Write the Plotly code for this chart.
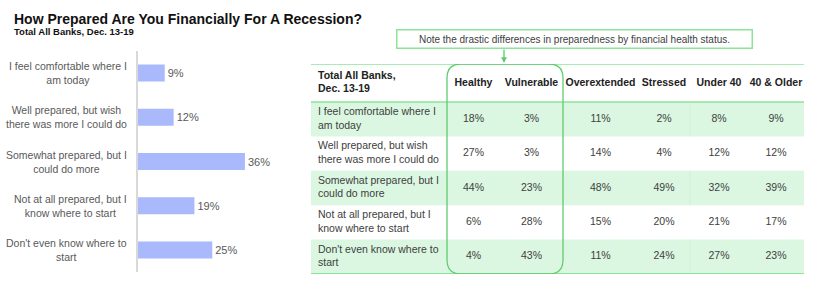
import plotly.graph_objects as go

W, H = 822, 303

# ---------------- data ----------------
answers = [
    "I feel comfortable where I<br>am today",
    "Well prepared, but wish<br>there was more I could do",
    "Somewhat prepared, but I<br>could do more",
    "Not at all prepared, but I<br>know where to start",
    "Don't even know where to<br>start",
]
total_values = [9, 12, 36, 19, 25]

title_text = "How Prepared Are You Financially For A Recession?"
subtitle_text = "Total All Banks, Dec. 13-19"
table_corner = "Total All Banks,<br>Dec. 13-19"
segments = ["Healthy", "Vulnerable", "Overextended", "Stressed", "Under 40", "40 & Older"]
healthy = [18, 27, 44, 6, 4]
vulnerable = [3, 3, 23, 28, 43]
overextended = [11, 14, 48, 15, 11]
stressed = [2, 4, 49, 20, 24]
under_40 = [8, 12, 32, 21, 27]
older_40 = [9, 12, 39, 17, 23]
note_text = "Note the drastic differences in preparedness by financial health status."

segment_values = [healthy, vulnerable, overextended, stressed, under_40, older_40]

# ---------------- style ----------------
FONT = "Liberation Sans, Arial, sans-serif"
BAR_COLOR = "#a9b9fb"
GRAY = "#595959"
DARK = "#404040"
GREEN_FILL = "#dbf7e1"
GREEN_LINE = "#8ee39a"
GREEN_BOX = "#5fcb6e"
col_widths = [136, 53, 63, 75, 52, 58, 56]   # pixel widths of table columns
row_px = 34.4
hdr_px = 38.0


def px_x(p):
    return p / W


def px_y(p):
    return 1 - p / H


fig = go.Figure()

# ---------------- left bar chart ----------------
fig.add_trace(go.Bar(
    x=total_values, y=answers, orientation="h",
    marker=dict(color=BAR_COLOR, line=dict(width=0)),
    width=0.385,
    text=[f"{v}%" for v in total_values], textposition="outside",
    textfont=dict(family=FONT, size=11, color=GRAY),
    cliponaxis=False, xaxis="x", yaxis="y", showlegend=False,
))

# ---------------- table on second axes ----------------
edges = [0]
for w in col_widths:
    edges.append(edges[-1] + w)
centers = [(edges[i] + edges[i + 1]) / 2 for i in range(len(col_widths))]
total_w = edges[-1]
hdr_units = hdr_px / row_px
n_rows = len(answers)

# row labels
fig.add_trace(go.Scatter(
    x=[7] * n_rows, y=[i + 0.5 for i in range(n_rows)],
    text=answers, mode="text", textposition="middle right",
    textfont=dict(family=FONT, size=10.5, color=DARK),
    xaxis="x2", yaxis="y2", showlegend=False, cliponaxis=False, hoverinfo="skip",
))
# corner header
fig.add_trace(go.Scatter(
    x=[7], y=[-hdr_units / 2], text=[f"<b>{table_corner}</b>"],
    mode="text", textposition="middle right",
    textfont=dict(family=FONT, size=10.5, color="#222222"),
    xaxis="x2", yaxis="y2", showlegend=False, cliponaxis=False, hoverinfo="skip",
))
# segment headers
fig.add_trace(go.Scatter(
    x=centers[1:], y=[-hdr_units / 2] * len(segments),
    text=[f"<b>{s}</b>" for s in segments], mode="text", textposition="middle center",
    textfont=dict(family=FONT, size=10.5, color="#222222"),
    xaxis="x2", yaxis="y2", showlegend=False, cliponaxis=False, hoverinfo="skip",
))
# values
for j, vals in enumerate(segment_values):
    fig.add_trace(go.Scatter(
        x=[centers[j + 1]] * n_rows, y=[i + 0.5 for i in range(n_rows)],
        text=[f"{v}%" for v in vals], mode="text", textposition="middle center",
        textfont=dict(family=FONT, size=10.5, color=DARK),
        xaxis="x2", yaxis="y2", showlegend=False, cliponaxis=False, hoverinfo="skip",
    ))

shapes = []
sep = edges[5]  # separator between financial-health and age groups
for i in range(n_rows):
    if i % 2 == 0:
        shapes.append(dict(type="rect", xref="x2", yref="y2", x0=0, x1=total_w,
                           y0=i, y1=i + 1, fillcolor=GREEN_FILL, line=dict(width=0),
                           layer="below"))
        shapes.append(dict(type="line", xref="x2", yref="y2", x0=sep, x1=sep,
                           y0=i, y1=i + 1, line=dict(color="#c9efd0", width=0.8),
                           layer="below"))
for yy, wd in [(-hdr_units, 1.3), (0, 1.3), (n_rows, 1.8)]:
    shapes.append(dict(type="line", xref="x2", yref="y2", x0=0, x1=total_w,
                       y0=yy, y1=yy, line=dict(color=GREEN_LINE, width=wd)))

# rounded highlight box around Healthy & Vulnerable
bx0, bx1 = edges[1], edges[3]
by0, by1 = -hdr_units, n_rows
rx, ry = 14, 14 / row_px
path = (f"M {bx0 + rx},{by0} L {bx1 - rx},{by0} Q {bx1},{by0} {bx1},{by0 + ry} "
        f"L {bx1},{by1 - ry} Q {bx1},{by1} {bx1 - rx},{by1} "
        f"L {bx0 + rx},{by1} Q {bx0},{by1} {bx0},{by1 - ry} "
        f"L {bx0},{by0 + ry} Q {bx0},{by0} {bx0 + rx},{by0} Z")
shapes.append(dict(type="path", xref="x2", yref="y2", path=path,
                   line=dict(color=GREEN_BOX, width=1.3), fillcolor="rgba(0,0,0,0)"))

annotations = [
    dict(text=f"<b>{title_text}</b>", x=px_x(12), y=px_y(19), xref="paper", yref="paper",
         xanchor="left", yanchor="middle", showarrow=False,
         font=dict(family=FONT, size=14, color="#111111")),
    dict(text=f"<b>{subtitle_text}</b>", x=px_x(12), y=px_y(32), xref="paper", yref="paper",
         xanchor="left", yanchor="middle", showarrow=False,
         font=dict(family=FONT, size=9.5, color="#111111")),
    dict(text=note_text, x=px_x(574), y=px_y(38.5), xref="paper", yref="paper",
         xanchor="center", yanchor="middle", showarrow=False,
         width=352, height=15, borderpad=1, bordercolor=GREEN_LINE, borderwidth=1.5,
         bgcolor="white", font=dict(family=FONT, size=10, color=DARK)),
    dict(text="", x=px_x(504), y=px_y(63), xref="paper", yref="paper",
         showarrow=True, ax=0, ay=-15, arrowhead=2, arrowsize=0.9, arrowwidth=1.3,
         arrowcolor=GREEN_BOX),
]
# centred category labels for the bar chart
for a in answers:
    annotations.append(dict(text=a, x=px_x(129), y=a, xref="paper", yref="y",
                            xanchor="right", yanchor="middle", align="center",
                            showarrow=False,
                            font=dict(family=FONT, size=10.5, color=GRAY)))

fig.update_layout(
    width=W, height=H, margin=dict(l=0, r=0, t=0, b=0),
    paper_bgcolor="white", plot_bgcolor="white",
    font=dict(family=FONT, color=GRAY),
    shapes=shapes, annotations=annotations, showlegend=False,
    xaxis=dict(domain=[px_x(138), px_x(138 + 40 * 2.97)], range=[0, 40],
               visible=False, fixedrange=True),
    yaxis=dict(domain=[px_y(272), px_y(51)], autorange="reversed",
               categoryorder="array", categoryarray=answers,
               showline=True, linecolor="#d9d9d9", linewidth=1.5,
               showgrid=False, zeroline=False, ticks="", showticklabels=False,
               fixedrange=True),
    xaxis2=dict(domain=[px_x(311), px_x(804)], range=[0, total_w], visible=False,
                anchor="y2", fixedrange=True),
    yaxis2=dict(domain=[px_y(274), px_y(64)], range=[n_rows, -hdr_units], visible=False,
                anchor="x2", fixedrange=True),
)

fig.write_html("out.html")
